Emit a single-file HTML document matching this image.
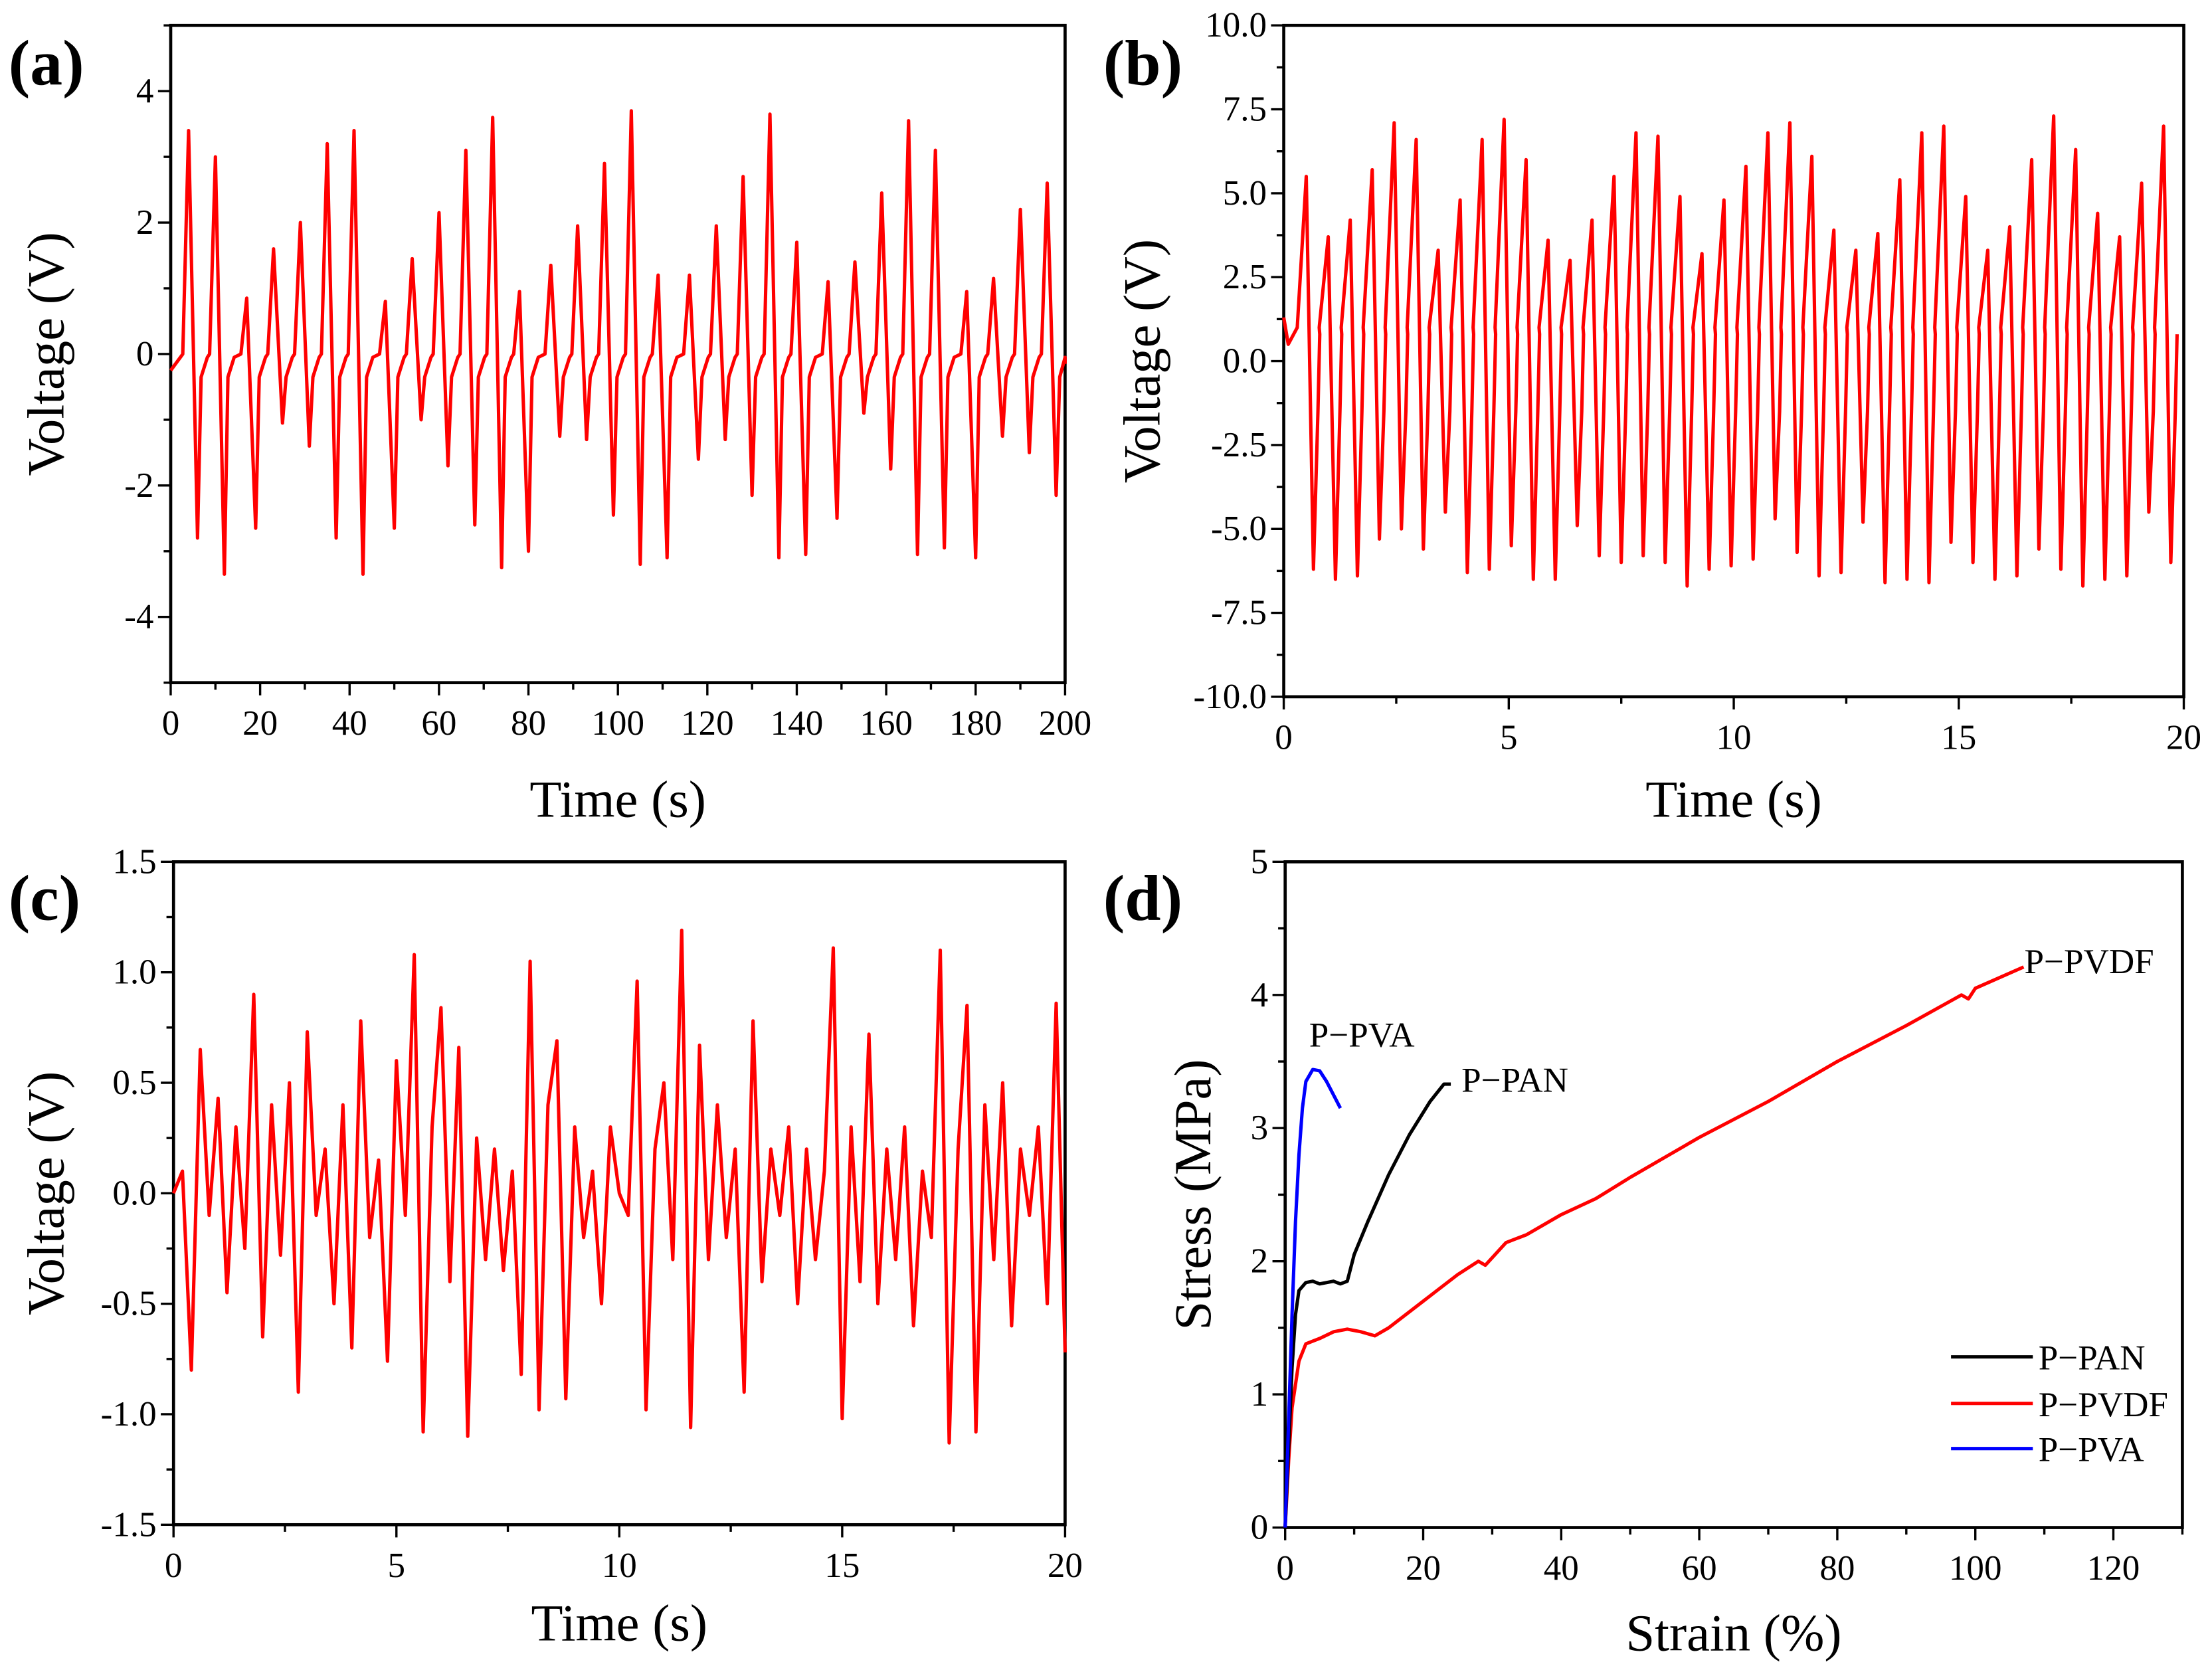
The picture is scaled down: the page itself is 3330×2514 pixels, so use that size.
<!DOCTYPE html>
<html><head><meta charset="utf-8"><style>
html,body{margin:0;padding:0;background:#fff;}
svg{display:block;font-family:"Liberation Serif",serif;}
</style></head><body>
<svg id="fig" width="3330" height="2514" viewBox="0 0 1568 1184" preserveAspectRatio="none" xmlns="http://www.w3.org/2000/svg"></svg>
<script>
// ---- Panel (a) data ----
const aPeakT=[4,10,17,23,29,35,41,48,54,60,66,72,78,85,91,97,103,109,116,122,128,134,140,147,153,159,165,171,178,184,190,196];
const aPeakV=[3.4,3.0,0.85,1.6,2.0,3.2,3.4,0.8,1.45,2.15,3.1,3.6,0.95,1.35,1.95,2.9,3.7,1.2,1.2,1.95,2.7,3.65,1.7,1.1,1.4,2.45,3.55,3.1,0.95,1.15,2.2,2.6];
const aTroughV=[-2.8,-3.35,-2.65,-1.05,-1.4,-2.8,-3.35,-2.65,-1.0,-1.7,-2.6,-3.25,-3.0,-1.25,-1.3,-2.45,-3.2,-3.1,-1.6,-1.3,-2.15,-3.1,-3.05,-2.5,-0.9,-1.75,-3.05,-2.95,-3.1,-1.25,-1.5,-2.15];
// ---- Panel (b) data ----
const bStart=0.5, bPeriod=0.4885;
const bPeakV=[5.5,3.7,4.2,5.7,7.1,6.6,3.3,4.8,6.6,7.2,6.0,3.6,3.0,4.2,5.5,6.8,6.7,4.9,3.2,4.8,5.8,6.8,7.1,6.1,3.9,3.3,3.8,5.4,6.8,7.0,4.9,3.3,4.0,6.0,7.3,6.3,4.4,3.7,5.3,7.0];
const bTroughV=[-6.2,-6.5,-6.4,-5.3,-5.0,-5.6,-4.5,-6.3,-6.2,-5.5,-6.5,-6.5,-4.9,-5.8,-6.0,-5.8,-6.0,-6.7,-6.2,-6.1,-5.9,-4.7,-5.7,-6.4,-6.3,-4.8,-6.6,-6.5,-6.6,-5.4,-6.0,-6.5,-6.4,-5.6,-6.2,-6.7,-6.5,-6.4,-4.5,-6.0];
// ---- Panel (c) data ----
const cValues=[0,0.1,-0.8,0.65,-0.1,0.43,-0.45,0.3,-0.25,0.9,-0.65,0.4,-0.28,0.5,-0.9,0.73,-0.1,0.2,-0.5,0.4,-0.7,0.78,-0.2,0.15,-0.76,0.6,-0.1,1.08,-1.08,0.3,0.84,-0.4,0.66,-1.1,0.25,-0.3,0.2,-0.35,0.1,-0.82,1.05,-0.98,0.4,0.69,-0.93,0.3,-0.2,0.1,-0.5,0.3,0.0,-0.1,0.96,-0.98,0.2,0.5,-0.3,1.19,-1.06,0.67,-0.3,0.4,-0.2,0.2,-0.9,0.78,-0.4,0.2,-0.1,0.3,-0.5,0.2,-0.3,0.1,1.11,-1.02,0.3,-0.4,0.72,-0.5,0.2,-0.3,0.3,-0.6,0.1,-0.2,1.1,-1.13,0.2,0.85,-1.08,0.4,-0.3,0.5,-0.6,0.2,-0.1,0.3,-0.5,0.86,-0.72];
// ---- Panel (d) data ----
const pvaX=[0,0.5,1,1.5,2,2.5,3,4,5,6,7,8];
const pvaY=[0,0.8,1.6,2.3,2.8,3.15,3.35,3.44,3.43,3.35,3.25,3.15];
const panX=[0,0.5,1,1.5,2,3,4,5,6,7,8,9,10,12,15,18,21,23,24];
const panY=[0,0.6,1.2,1.6,1.78,1.84,1.85,1.83,1.84,1.85,1.83,1.85,2.05,2.3,2.65,2.95,3.2,3.33,3.33];
const pvdfX=[0,0.5,1,2,3,5,7,9,11,13,15,20,25,28,29,32,35,40,45,50,55,60,70,80,90,98,99,100,107];
const pvdfY=[0,0.5,0.9,1.25,1.38,1.42,1.47,1.49,1.47,1.44,1.5,1.7,1.9,2.0,1.97,2.14,2.2,2.35,2.47,2.63,2.78,2.93,3.2,3.5,3.77,4.0,3.97,4.05,4.21];
const aXTicks=[0,20,40,60,80,100,120,140,160,180,200];
const aYTicks=[-4,-2,0,2,4];
const bYTicks=["-10.0","-7.5","-5.0","-2.5","0.0","2.5","5.0","7.5","10.0"];
const cYTicks=["-1.5","-1.0","-0.5","0.0","0.5","1.0","1.5"];
const tXTicks=[0,5,10,15,20];
const dXTicks=[0,20,40,60,80,100,120];
const dYTicks=[0,1,2,3,4,5];

const NS="http://www.w3.org/2000/svg";
const svg=document.getElementById('fig');
function mk(tag,attrs,parent){const e=document.createElementNS(NS,tag);for(const k in attrs)e.setAttribute(k,attrs[k]);(parent||svg).appendChild(e);return e;}
function txt(s,attrs,parent){const e=mk('text',attrs,parent);e.textContent=s;return e;}

function panel(id,box,xr,yr,xt,yt,xMinor,yMinor,xtitle,ytitle,ytx,xty,letter){
  const g=mk('g',{});
  
  
  const sx=v=>box.x0+(v-xr[0])/(xr[1]-xr[0])*(box.x1-box.x0);
  const sy=v=>box.y1-(v-yr[0])/(yr[1]-yr[0])*(box.y1-box.y0);
  const fr=mk('rect',{x:box.x0,y:box.y0,width:box.x1-box.x0,height:box.y1-box.y0,fill:'none',stroke:'#000','stroke-width':2.2},g);
  
  
  for(let v=xr[0];v<=xr[1]+1e-9;v+=xMinor){
    const major=xt.some(t=>Math.abs(+t-v)<1e-9);
    mk('line',{x1:sx(v),x2:sx(v),y1:box.y1,y2:box.y1+(major?9:5),stroke:'#000','stroke-width':1.6},g);
  }
  xt.forEach(t=>{const l=txt(String(t),{x:sx(+t),y:box.y1+37,'text-anchor':'middle','font-size':25},g);
    
    });
  for(let v=yr[0];v<=yr[1]+1e-9;v+=yMinor){
    const major=yt.some(t=>Math.abs(+t-v)<1e-9);
    mk('line',{x1:box.x0,x2:box.x0-(major?9:5),y1:sy(v),y2:sy(v),stroke:'#000','stroke-width':1.6},g);
  }
  yt.forEach(t=>{const l=txt(String(t),{x:box.x0-12,y:sy(+t)+8,'text-anchor':'end','font-size':25},g);
    
    });
  const xl=txt(xtitle,{x:(box.x0+box.x1)/2,y:xty,'text-anchor':'middle','font-size':37},g);
  
  
  const cy=(box.y0+box.y1)/2;
  const yl=txt(ytitle,{x:ytx,y:cy,'text-anchor':'middle','font-size':37,transform:`rotate(-90 ${ytx} ${cy})`},g);
  
  
  const pl=txt(letter.t,{x:letter.x,y:letter.y,'font-size':46,'font-weight':'bold'},g);
  
  
  return {g,sx,sy};
}
function line(P,xs,ys,color,name){
  const d=xs.map((x,i)=>(i?'L':'M')+P.sx(x).toFixed(2)+','+P.sy(ys[i]).toFixed(2)).join('');
  const p=mk('path',{d,fill:'none',stroke:color,'stroke-width':2.4,'stroke-linejoin':'round'},P.g);
  
  
}

// Panel a
const A=panel('a',{x0:121,x1:755,y0:18,y1:484},[0,200],[-5,5],aXTicks,aYTicks,10,1,'Time (s)','Voltage (V)',45,579,{t:'(a)',x:6,y:60});
{const xs=[0],ys=[-0.25];
 aPeakT.forEach((t,i)=>{xs.push(t-1.3,t,t+2,t+2.8,t+4.2);ys.push(0,aPeakV[i],aTroughV[i],-0.35,-0.05);});
 xs.push(199,200);ys.push(-0.2,-0.15);
 const o=xs.map((x,i)=>[Math.min(x,200),ys[i]]).filter((p,i,a)=>i==0||p[0]>=a[i-1][0]);
 line(A,o.map(p=>p[0]),o.map(p=>p[1]),'#ff0000','series-a');}

// Panel b
const B=panel('b',{x0:910,x1:1548,y0:18,y1:494},[0,20],[-10,10],tXTicks,bYTicks,2.5,1.25,'Time (s)','Voltage (V)',822,579,{t:'(b)',x:782,y:60});
{const xs=[0,0.1],ys=[1.3,0.5];
 bPeakV.forEach((p,i)=>{const t=bStart+i*bPeriod;xs.push(t-0.2,t,t+0.16,t+0.26,t+0.3);ys.push(1.0,p,bTroughV[i],-1.5,0.8);});
 const o=xs.map((x,i)=>[Math.min(x,20),ys[i]]);
 line(B,o.map(p=>p[0]),o.map(p=>p[1]),'#ff0000','series-b');}

// Panel c
const C=panel('c',{x0:123,x1:755,y0:611,y1:1081},[0,20],[-1.5,1.5],tXTicks,cYTicks,2.5,0.25,'Time (s)','Voltage (V)',45,1163,{t:'(c)',x:6,y:652});
line(C,cValues.map((v,i)=>i*20/(cValues.length-1)),cValues,'#ff0000','series-c');

// Panel d
const D=panel('d',{x0:911,x1:1547,y0:611,y1:1083},[0,130],[0,5],dXTicks,dYTicks,10,0.5,'Strain (%)','Stress (MPa)',858,1170,{t:'(d)',x:782,y:652});
line(D,pvdfX,pvdfY,'#ff0000','series-p-pvdf');
line(D,panX,panY,'#000000','series-p-pan');
line(D,pvaX,pvaY,'#0000ff','series-p-pva');
[['P\u2212PVA',928,742],['P\u2212PAN',1036,774],['P\u2212PVDF',1435,690]].forEach(a=>{
  const t=txt(a[0],{x:a[1],y:a[2],'font-size':25},D.g);
  
  });
[['P\u2212PAN','#000000',962],['P\u2212PVDF','#ff0000',995],['P\u2212PVA','#0000ff',1027]].forEach(a=>{
  const g=mk('g',{},D.g);
  
  
  mk('line',{x1:1383,x2:1441,y1:a[2],y2:a[2],stroke:a[1],'stroke-width':2.4},g);
  txt(a[0],{x:1445,y:a[2]+9,'font-size':25},g);
});
</script>
</body></html>
